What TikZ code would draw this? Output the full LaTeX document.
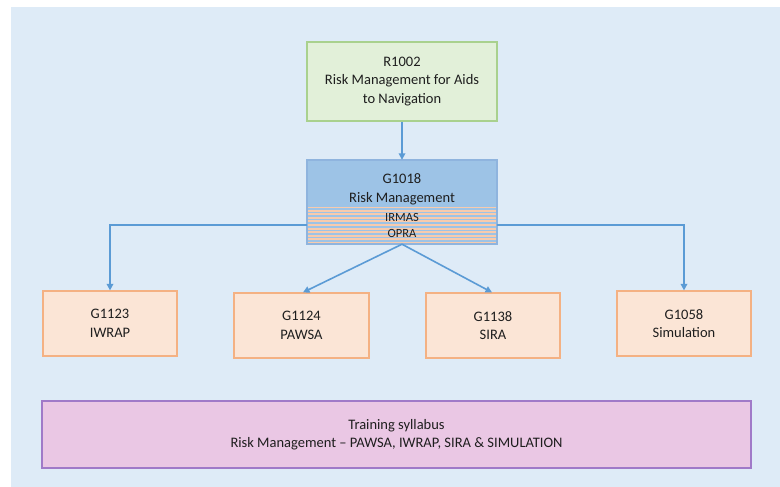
\documentclass[tikz,border=0pt]{standalone}
\usepackage{fontspec}
\setmainfont{Carlito}
\usetikzlibrary{arrows.meta,calc}
\definecolor{bgblue}{HTML}{DEEBF7}
\definecolor{greenfill}{HTML}{E2F0D9}
\definecolor{greenline}{HTML}{A9D18E}
\definecolor{bluefill}{HTML}{9DC3E6}
\definecolor{blueline}{HTML}{8FB4DE}
\definecolor{orangefill}{HTML}{FBE5D6}
\definecolor{orangeline}{HTML}{F4B183}
\definecolor{stripeorange}{HTML}{F8CBAD}
\definecolor{purplefill}{HTML}{EAC7E4}
\definecolor{purpleline}{HTML}{A07AC8}
\definecolor{arrowblue}{HTML}{5B9BD5}
\definecolor{txt}{HTML}{1E1E1E}
\begin{document}
\begin{tikzpicture}[x=1pt,y=-1pt,
  box/.style={draw, line width=1.2pt, align=center, text=txt, inner sep=0pt,
    font=\fontsize{14.5}{18.5}\selectfont},
  greenbox/.style={box, fill=greenfill, draw=greenline},
  orangebox/.style={box, fill=orangefill, draw=orangeline, minimum width=134pt, minimum height=65pt},
  purplebox/.style={box, fill=purplefill, draw=purpleline},
  lbl/.style={text=txt, align=center, inner sep=0pt},
  arr/.style={draw=arrowblue, line width=1.6pt, -{Triangle[length=6.5pt,width=6.5pt]}}
]
\useasboundingbox (0,0) rectangle (780,487);
\fill[white] (0,0) rectangle (780,487);
\fill[bgblue] (11,7) rectangle (780,487);

% R1002
\node[greenbox, minimum width=190pt, minimum height=79pt] (r1002) at (402,81.5)
  {R1002\\Risk Management for Aids\\to Navigation};

% G1018 composite box
\node[draw=none, minimum width=190pt, minimum height=84pt, inner sep=0pt] (g1018) at (402,202) {};
\fill[bluefill] (307,160) rectangle (497,207);
\fill[stripeorange] (307,207) rectangle (497,244);
\foreach \yy in {208.8,212.4,...,243} {
  \draw[bluefill, line width=1.5pt] (307,\yy) -- (497,\yy);
}
\draw[blueline, line width=1.2pt] (307,160) rectangle (497,244);
\node[lbl, font=\fontsize{14.5}{18.5}\selectfont] (g1018t) at (402,189.5) {G1018\\Risk Management};
\node[lbl, font=\fontsize{12.5}{16}\selectfont] (irmas) at (402,225) {IRMAS\\OPRA};

% bottom row
\node[orangebox] (g1123) at (110,323.5) {G1123\\IWRAP};
\node[orangebox, minimum width=135pt] (g1124) at (301.5,325.5) {G1124\\PAWSA};
\node[orangebox] (g1138) at (493,325.5) {G1138\\SIRA};
\node[orangebox] (g1058) at (684,323.5) {G1058\\Simulation};

% training
\node[purplebox, minimum width=709pt, minimum height=67pt] (train) at (396.5,434.5)
  {Training syllabus\\Risk Management – PAWSA, IWRAP, SIRA \& SIMULATION};

% connectors
\coordinate (lj) at (307,225);
\coordinate (rj) at (497,225);
\draw[arr] (r1002.south) -- (g1018.north);
\draw[arr] (lj) -| (g1123.north);
\draw[arr] (rj) -| (g1058.north);
\draw[arr] (g1018.south) -- ($(g1124.north)+(1.5,0)$);
\draw[arr] (g1018.south) -- ($(g1138.north)+(-1,0)$);
\end{tikzpicture}
\end{document}
